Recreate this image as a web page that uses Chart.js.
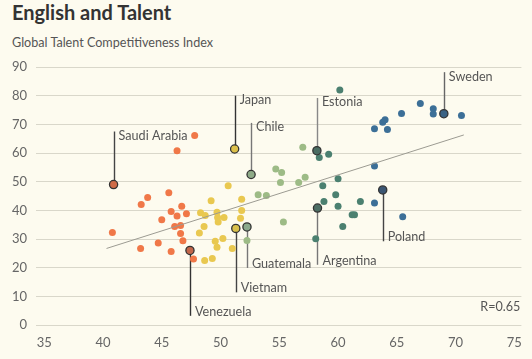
<!DOCTYPE html>
<html>
<head>
<meta charset="utf-8">
<script src="https://cdn.jsdelivr.net/npm/chart.js@4/dist/chart.umd.min.js"></script>
<style>
  html, body { margin: 0; padding: 0; background: #fdfbef; }
  #wrap { position: relative; width: 532px; height: 359px; font-family: Lato, sans-serif; }
  h1 { position: absolute; left: 12px; top: 0; margin: 0; font-size: 20px; font-weight: 700; color: #333; }
  .sub { position: absolute; left: 12px; top: 35px; font-size: 12.6px; color: #555; }
  canvas { position: absolute; left: 0; top: 0; }
</style>
</head>
<body>
<div id="wrap">
  <h1>English and Talent</h1>
  <div class="sub">Global Talent Competitiveness Index</div>
  <canvas id="chart" width="532" height="359"></canvas>
</div>
<script>
// x = English proficiency, y = talent index
const orangeDots = [[40.8,32.3],[47.8,66.1],[46.3,60.8],[45.6,46.1],[43.8,44.5],[43.25,42.0],[46.7,41.4],[45.8,39.6],[46.3,38.0],[47.1,38.8],[45.0,36.7],[46.1,34.4],[46.6,34.7],[46.6,31.9],[46.8,29.4],[44.7,28.6],[43.2,26.7],[45.8,25.6],[47.7,23.0]];
const yellowDots = [[50.65,48.6],[49.2,43.3],[51.8,43.9],[48.3,39.2],[48.7,38.2],[49.7,39.3],[49.75,37.5],[50.3,37.5],[51.8,39.9],[51.7,37.2],[49.8,35.9],[48.6,34.4],[48.2,32.1],[50.2,30.2],[49.55,29.2],[49.7,27.1],[51.0,26.7],[48.65,22.5],[49.3,23.2]];
const lightGreenDots = [[57.0,62.0],[54.7,54.4],[55.2,53.2],[55.1,49.7],[56.65,49.7],[57.2,51.5],[53.2,45.4],[53.9,45.2],[55.35,35.9],[52.25,29.5]];
const darkGreenDots = [[60.15,82.0],[58.4,58.4],[59.2,59.6],[60.0,51.0],[58.7,48.6],[59.8,45.4],[58.8,43.1],[60.0,41.4],[61.9,43.1],[61.2,38.5],[61.4,38.5],[60.4,34.4],[58.1,30.1]];
const blueDots = [[63.1,42.6],[65.5,37.8],[63.1,68.5],[63.8,70.7],[64.0,71.6],[64.2,68.2],[65.4,73.8],[63.1,55.5],[67.0,77.3],[68.1,75.4],[68.1,73.6],[70.5,73.1]];

const labelNames = ['Saudi Arabia','Japan','Chile','Estonia','Sweden','Poland','Argentina','Guatemala','Vietnam','Venezuela'];
const labelX = [40.9, 51.2, 52.6, 58.2, 69.0, 63.8, 58.25, 52.25, 51.3, 47.4];
const labelY = [49.0, 61.4, 52.5, 60.8, 73.7, 47.1, 40.8, 34.2, 33.7, 26.0];
const labelTipY = [67.5, 80.0, 70.5, 79.2, 88.2, 29.2, 21.0, 19.9, 11.4, 3.2];
const labelFill = ['#cf6b48','#dcc04a','#8fab88','#4a6c62','#3b6384','#3b5673','#4d6e64','#8aa98d','#d9c04b','#c2664a'];
const leaderColor = ['#444','#333','#777','#888','#666','#444','#777','#777','#444','#333'];

const trendX = [40.3, 70.7];
const trendY = [26.7, 66.3];
const xTicks = [35, 40, 45, 50, 55, 60, 65, 70, 75];
const rText = 'R=0.65';

const toPts = arr => arr.map(p => ({ x: p[0], y: p[1] }));

Chart.defaults.font.family = 'Lato, sans-serif';

const labelPlugin = {
  id: 'labels',
  beforeDatasetsDraw(chart) {
    const { ctx, scales: { x, y } } = chart;
    ctx.save();
    ctx.lineWidth = 1.4;
    labelNames.forEach((n, i) => {
      const px = Math.round(x.getPixelForValue(labelX[i])) + 0.5;
      ctx.strokeStyle = leaderColor[i];
      ctx.beginPath();
      ctx.moveTo(px, y.getPixelForValue(labelY[i]));
      ctx.lineTo(px, y.getPixelForValue(labelTipY[i]));
      ctx.stroke();
    });
    ctx.restore();
  },
  afterDatasetsDraw(chart) {
    const { ctx, chartArea, scales: { x, y } } = chart;
    ctx.save();
    ctx.font = '12.6px Lato, sans-serif';
    ctx.fillStyle = '#555';
    labelNames.forEach((n, i) => {
      const px = x.getPixelForValue(labelX[i]) + 5;
      const tip = y.getPixelForValue(labelTipY[i]);
      if (labelTipY[i] > labelY[i]) {
        ctx.textBaseline = 'top';
        ctx.fillText(n, px, tip - 2);
      } else {
        ctx.textBaseline = 'alphabetic';
        ctx.fillText(n, px, tip);
      }
    });
    ctx.textAlign = 'right';
    ctx.textBaseline = 'alphabetic';
    ctx.fillText(rText, chartArea.right - 1, 311);
    ctx.restore();
  }
};

new Chart(document.getElementById('chart'), {
  type: 'scatter',
  data: {
    datasets: [
      { data: toPts(orangeDots), backgroundColor: '#f07848', order: 5 },
      { data: toPts(yellowDots), backgroundColor: '#e9c850', order: 5 },
      { data: toPts(lightGreenDots), backgroundColor: '#9dbb86', order: 5 },
      { data: toPts(darkGreenDots), backgroundColor: '#4b8070', order: 5 },
      { data: toPts(blueDots), backgroundColor: '#3c6f97', order: 5 },
      {
        data: trendX.map((v, i) => ({ x: v, y: trendY[i] })),
        showLine: true, borderColor: '#9c9b92', borderWidth: 1,
        pointRadius: 0, order: 2
      },
      {
        data: labelX.map((v, i) => ({ x: v, y: labelY[i] })),
        backgroundColor: labelFill, borderColor: '#333', borderWidth: 1.3,
        pointRadius: 4.1, order: 1
      }
    ]
  },
  options: {
    responsive: false,
    animation: false,
    layout: { padding: { top: 67, right: 7, left: 0, bottom: 0 } },
    elements: { point: { radius: 3.5, borderWidth: 0 } },
    plugins: {
      legend: { display: false },
      tooltip: { enabled: false }
    },
    scales: {
      x: {
        type: 'linear',
        min: 34.3,
        max: 75.6,
        afterBuildTicks: axis => { axis.ticks = xTicks.map(v => ({ value: v })); },
        afterFit: axis => { axis.height = 34; },
        grid: { display: false, drawTicks: false },
        border: { display: false },
        ticks: { color: '#666', font: { size: 13 }, padding: 10 }
      },
      y: {
        min: 0,
        max: 90,
        afterFit: axis => { axis.width = 36; },
        grid: { color: '#d9d7ca', drawTicks: false },
        border: { display: false },
        ticks: { color: '#666', font: { size: 13 }, padding: 9, stepSize: 10 }
      }
    }
  },
  plugins: [labelPlugin]
});
</script>
</body>
</html>
